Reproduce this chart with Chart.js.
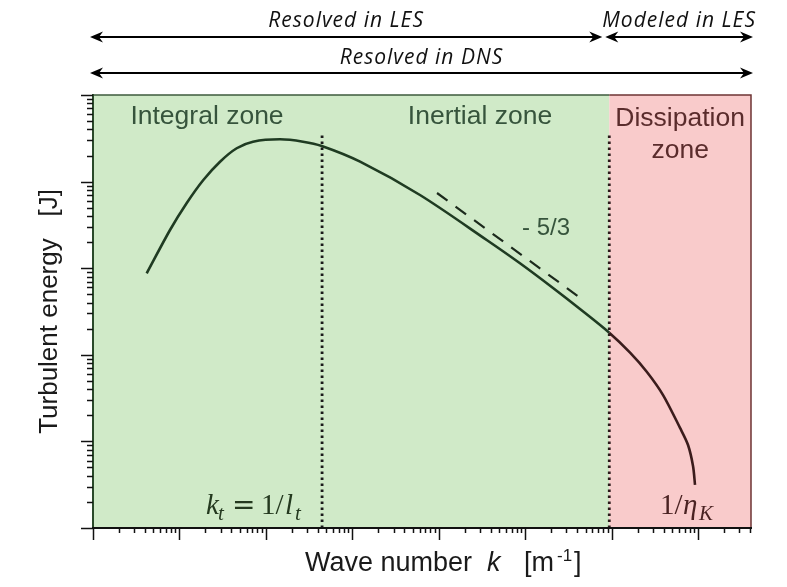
<!DOCTYPE html>
<html><head><meta charset="utf-8">
<script src="https://cdn.jsdelivr.net/npm/chart.js@4"></script>
<style>html,body{margin:0;padding:0;background:#fff}</style>
</head><body>
<canvas id="c" width="787" height="587"></canvas>
<script>
// ---- data ----
const waveNumbers = [4.18, 7.78, 12.1, 18.9, 29.5, 46.0, 71.0, 145.6, 269, 443, 1230, 6067, 35890, 87100, 210000, 431000, 940000, 1.635e6, 2.55e6, 3.94e6, 6.19e6, 7.66e6, 8.75e6, 9.23e6];
const energies    = [873, 2761, 5623, 10430, 16980, 24270, 28900, 30780, 28900, 25760, 16980, 7000, 2118, 1140, 591, 338, 180, 106, 63.8, 34.3, 14.3, 9.09, 5.2, 3.14];
const slopeK = [9550, 467000];
const slopeE = [7385, 430];
const kIntegral = 447;      // k_t = 1/l_t
const kDissipation = 9.4e5; // 1/eta_K boundary
const dottedTopE = 3.6e4;
const xRange = [1, 4.1e7];
const yRange = [1, 1e5];
const zoneNames = ['Integral zone', 'Inertial zone', 'Dissipation', 'zone'];
const rangeNames = ['Resolved in LES', 'Modeled in LES', 'Resolved in DNS'];
const slopeLabel = '- 5/3';

const GREEN_LINE = '#1f3b22', RED_LINE = '#3b1c1c';

function logTicks(min, max) {
  const out = [];
  for (let e = Math.floor(Math.log10(min)); e <= Math.ceil(Math.log10(max)); e++) {
    for (let m = 1; m < 10; m++) {
      const v = m * Math.pow(10, e);
      if (v >= min * 0.999 && v <= max * 1.001) out.push({ v, major: m === 1 });
    }
  }
  return out;
}

function arrowHead(ctx, x, y, dir) {
  ctx.beginPath();
  ctx.moveTo(x, y);
  ctx.lineTo(x + dir * 13, y - 5.5);
  ctx.lineTo(x + dir * 9, y);
  ctx.lineTo(x + dir * 13, y + 5.5);
  ctx.closePath();
  ctx.fill();
}
function arrow(ctx, x1, x2, y) {
  ctx.beginPath();
  ctx.moveTo(x1 + 6, y); ctx.lineTo(x2 - 6, y); ctx.stroke();
  arrowHead(ctx, x1, y, 1); arrowHead(ctx, x2, y, -1);
}

const decor = {
  id: 'decor',
  beforeDatasetsDraw(chart) {
    const { ctx, chartArea: a, scales: { x } } = chart;
    const xb = x.getPixelForValue(kDissipation);
    ctx.save();
    ctx.fillStyle = '#d0eac8';
    ctx.fillRect(a.left, a.top, xb - a.left, a.bottom - a.top);
    ctx.fillStyle = '#f9cbcb';
    ctx.fillRect(xb, a.top, a.right - xb, a.bottom - a.top);
    // zone labels
    ctx.font = '26.5px "Liberation Sans", Arial, sans-serif';
    ctx.textAlign = 'center';
    ctx.textBaseline = 'alphabetic';
    ctx.fillStyle = '#36543c';
    ctx.fillText(zoneNames[0], 207, a.top + 29);
    ctx.fillText(zoneNames[1], 480, a.top + 29);
    ctx.fillStyle = '#5a2c2c';
    ctx.fillText(zoneNames[2], (xb + a.right) / 2, a.top + 31);
    ctx.fillText(zoneNames[3], (xb + a.right) / 2, a.top + 63);
    ctx.restore();
  },
  afterDatasetsDraw(chart) {
    const { ctx, chartArea: a, scales: { x, y } } = chart;
    const xb = x.getPixelForValue(kDissipation);
    ctx.save();
    // borders
    ctx.lineWidth = 1.5;
    ctx.strokeStyle = '#3d5a3d';
    ctx.beginPath(); ctx.moveTo(a.left, a.top); ctx.lineTo(xb, a.top); ctx.stroke();
    ctx.strokeStyle = '#6e3434';
    ctx.beginPath(); ctx.moveTo(xb, a.top); ctx.lineTo(a.right, a.top); ctx.lineTo(a.right, a.bottom); ctx.stroke();
    ctx.lineWidth = 2;
    ctx.strokeStyle = '#2a4a2a';
    ctx.beginPath(); ctx.moveTo(a.left, a.top - 1); ctx.lineTo(a.left, a.bottom); ctx.stroke();
    ctx.strokeStyle = '#111';
    ctx.beginPath(); ctx.moveTo(a.left - 1, a.bottom); ctx.lineTo(a.right + 1, a.bottom); ctx.stroke();
    // ticks
    ctx.lineWidth = 1.5;
    ctx.strokeStyle = '#111';
    for (const t of logTicks(yRange[0], yRange[1])) {
      const py = Math.round(y.getPixelForValue(t.v)) + 0.5;
      ctx.beginPath(); ctx.moveTo(a.left, py); ctx.lineTo(a.left - (t.major ? 12 : 6), py); ctx.stroke();
    }
    for (const t of logTicks(xRange[0], xRange[1])) {
      const px = Math.round(x.getPixelForValue(t.v)) + 0.5;
      ctx.beginPath(); ctx.moveTo(px, a.bottom); ctx.lineTo(px, a.bottom + (t.major ? 12 : 5)); ctx.stroke();
    }
    // slope label
    ctx.fillStyle = '#36543c';
    ctx.font = '24px "Liberation Sans", Arial, sans-serif';
    ctx.textAlign = 'center';
    ctx.fillText(slopeLabel, 546, 235);
    // math labels
    const serif = '"Liberation Serif", "DejaVu Serif", serif';
    ctx.textAlign = 'left';
    ctx.fillStyle = '#24391f';
    let by = 514;
    function put(txt, font, px, dy) { ctx.font = font; ctx.fillText(txt, px, by + (dy || 0)); }
    put('k', 'italic 29px ' + serif, 206);
    put('t', 'italic 21px ' + serif, 218, 6);
    put('=', '28px "DejaVu Serif", serif', 232, 0);
    put('1/', '29px ' + serif, 261);
    put('l', 'italic 29px ' + serif, 285);
    put('t', 'italic 21px ' + serif, 295, 6);
    ctx.fillStyle = '#4a2222';
    put('1/', '29px ' + serif, 660);
    put('η', 'italic 29px ' + serif, 683);
    put('K', 'italic 21px ' + serif, 699, 6);
    // axis titles
    const sans = '"Liberation Sans", Arial, sans-serif';
    ctx.fillStyle = '#1a1a1a';
    ctx.save();
    ctx.translate(57, (a.top + a.bottom) / 2);
    ctx.rotate(-Math.PI / 2);
    ctx.font = '26px ' + sans;
    ctx.textAlign = 'center';
    ctx.fillText('Turbulent energy   [J]', 0, 0);
    ctx.restore();
    // x title with italic k and superscript
    ctx.textAlign = 'left';
    by = 571;
    put('Wave number', '27px ' + sans, 305);
    put('k', 'italic 27px ' + sans, 487);
    put('[m', '27px ' + sans, 524);
    put('-1', '17px ' + sans, 557, -10);
    put(']', '27px ' + sans, 574);
    // top range arrows
    ctx.strokeStyle = '#000'; ctx.fillStyle = '#000'; ctx.lineWidth = 2;
    const l = a.left - 3, r = a.right + 2, m1 = xb - 7, m2 = xb - 4;
    arrow(ctx, l, m1, 37);
    arrow(ctx, m2, r, 37);
    arrow(ctx, l, r, 73);
    ctx.font = 'italic 21px "Open Sans", "Lato", sans-serif';
    ctx.letterSpacing = '1px';
    ctx.textAlign = 'center';
    ctx.fillStyle = '#111';
    ctx.fillText(rangeNames[0], (l + m1) / 2, 27);
    ctx.fillText(rangeNames[1], (m2 + r) / 2, 27);
    ctx.fillText(rangeNames[2], (l + r) / 2, 64);
    ctx.letterSpacing = '0px';
    ctx.restore();
  }
};

const curve = waveNumbers.map((k, i) => ({ x: k, y: energies[i] }));

new Chart(document.getElementById('c'), {
  type: 'scatter',
  data: {
    datasets: [
      { data: [{ x: kIntegral, y: yRange[0] }, { x: kIntegral, y: dottedTopE }], showLine: true, borderColor: '#1a1a1a', borderWidth: 2.8, borderDash: [2.5, 3.5], pointRadius: 0 },
      { data: [{ x: kDissipation, y: yRange[0] }, { x: kDissipation, y: dottedTopE }], showLine: true, borderColor: '#2a1a1a', borderWidth: 2.8, borderDash: [2.5, 3.5], pointRadius: 0 },
      { data: slopeK.map((k, i) => ({ x: k, y: slopeE[i] })), showLine: true, borderColor: '#1c2a1c', borderWidth: 2.2, borderDash: [13, 10], pointRadius: 0 },
      { data: curve, showLine: true, borderColor: GREEN_LINE, borderWidth: 2.6, pointRadius: 0, tension: 0.3,
        segment: { borderColor: c => c.p0.parsed.x >= kDissipation * 0.999 ? RED_LINE : GREEN_LINE } }
    ]
  },
  options: {
    responsive: false, animation: false, devicePixelRatio: 1,
    layout: { padding: { left: 93, right: 36, top: 95, bottom: 59 } },
    plugins: { legend: { display: false }, tooltip: { enabled: false } },
    scales: {
      x: { type: 'logarithmic', min: xRange[0], max: xRange[1], display: false },
      y: { type: 'logarithmic', min: yRange[0], max: yRange[1], display: false }
    }
  },
  plugins: [decor]
});
</script>
</body></html>
